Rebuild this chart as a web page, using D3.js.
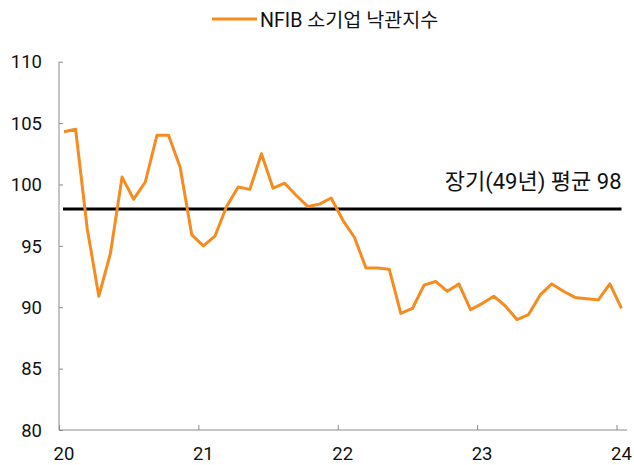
<!DOCTYPE html>
<html>
<head>
<meta charset="utf-8">
<script src="https://cdn.jsdelivr.net/npm/d3@7"></script>
<style>
  body { margin: 0; background: white; }
  svg text { font-family: Roboto, "Noto Sans CJK KR", sans-serif; fill: #111; }
  .axis path, .axis line { stroke: #8c8c8c; }
</style>
</head>
<body>
<svg id="chart" width="634" height="465"></svg>
<script>
// NFIB small business optimism, monthly Jan 2020 .. Jan 2024
var optimism = [
  104.3, 104.5, 96.4, 90.9, 94.4, 100.6, 98.8, 100.2, 104.0, 104.0, 101.4, 95.9,
  95.0, 95.8, 98.2, 99.8, 99.6, 102.5, 99.7, 100.1, 99.1, 98.2, 98.4, 98.9,
  97.1, 95.7, 93.2, 93.2, 93.1, 89.5, 89.9, 91.8, 92.1, 91.3, 91.9, 89.8,
  90.3, 90.9, 90.1, 89.0, 89.4, 91.0, 91.9, 91.3, 90.8, 90.7, 90.6, 91.9,
  89.9
];
var yearLabels = ["20", "21", "22", "23", "24"];
var yTicks = [80, 85, 90, 95, 100, 105, 110];
var longRunAvg = 98;
var seriesName = "NFIB 소기업 낙관지수";
var avgLabel = "장기(49년) 평균 98";

const lineColor = "#f68b1f";

let chart = d3.select("#chart");

// month index -> x
let xScale = d3.scaleLinear().domain([0, 48]).range([64, 621.5]);
let yScale = d3.scaleLinear().domain([80, 110]).range([430, 61.7]);

let tickShift = -0.43; // tick marks sit half a month left of January
let yearIdx = yearLabels.map((d, i) => i * 12);

// y axis
let yAxis = chart.append("g")
    .attr("class", "axis")
    .attr("transform", `translate(59,0)`)
    .call(d3.axisRight(yScale).tickValues(yTicks).tickSize(4).tickFormat(""));
yAxis.select(".domain").attr("d", `M0,${yScale(110)}V${yScale(80)}`);

chart.append("g").selectAll("text").data(yTicks).enter().append("text")
    .attr("x", 42)
    .attr("y", d => yScale(d))
    .attr("dy", "0.36em")
    .attr("text-anchor", "end")
    .style("font-size", "18.5px")
    .text(d => d);

// x axis (tick marks)
let xAxis = chart.append("g")
    .attr("class", "axis")
    .attr("transform", `translate(0,430)`)
    .call(d3.axisBottom(xScale)
        .tickValues(yearIdx.map(d => d + tickShift))
        .tickSizeInner(-5).tickSizeOuter(0)
        .tickFormat(""));
xAxis.select(".domain").attr("d", "M59,0H627");

chart.append("g").selectAll("text").data(yearLabels).enter().append("text")
    .attr("x", (d, i) => xScale(yearIdx[i]))
    .attr("y", 460)
    .attr("text-anchor", "middle")
    .style("font-size", "18.5px")
    .text(d => d);

// long-run average line
chart.append("line")
    .attr("x1", xScale(0) - 1)
    .attr("x2", xScale(48))
    .attr("y1", yScale(longRunAvg))
    .attr("y2", yScale(longRunAvg))
    .attr("stroke", "black")
    .attr("stroke-width", 3);

chart.append("text")
    .attr("x", xScale(48))
    .attr("y", 189)
    .attr("text-anchor", "end")
    .style("font-size", "22px")
    .text(avgLabel);

// series
let line = d3.line()
    .x((d, i) => xScale(i))
    .y(d => yScale(d));

chart.append("path")
    .datum(optimism)
    .attr("d", line)
    .attr("fill", "none")
    .attr("stroke", lineColor)
    .attr("stroke-width", 3)
    .attr("stroke-linejoin", "round");

// legend
chart.append("line")
    .attr("x1", 212).attr("x2", 257)
    .attr("y1", 19).attr("y2", 19)
    .attr("stroke", lineColor)
    .attr("stroke-width", 3);

chart.append("text")
    .attr("x", 260)
    .attr("y", 26.5)
    .style("font-size", "19.6px")
    .text(seriesName);
</script>
</body>
</html>
